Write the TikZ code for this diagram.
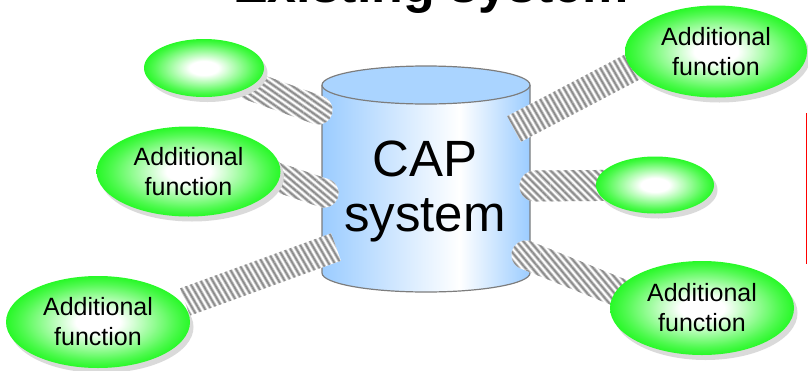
\documentclass[tikz,border=0pt]{standalone}
\usepackage{fontspec}
\setmainfont{Liberation Sans}
\usetikzlibrary{shapes.geometric,patterns.meta,calc,shadows}
\definecolor{cylblue}{RGB}{155,204,255}
\definecolor{cyltop}{RGB}{170,212,255}
\definecolor{cylline}{RGB}{125,125,125}
\definecolor{fgreen}{RGB}{20,248,20}
\definecolor{shgray}{RGB}{218,218,218}
\definecolor{stripe}{RGB}{140,140,140}
\definecolor{stripesoft}{RGB}{200,200,200}
\pgfdeclarehorizontalshading{cylshade}{100bp}{color(0bp)=(cylblue); color(25bp)=(cylblue); color(58bp)=(white); color(75bp)=(cylblue); color(100bp)=(cylblue)}
\pgfdeclareradialshading{blob}{\pgfpoint{0bp}{0bp}}{color(0bp)=(white); color(6bp)=(white); color(14bp)=(white!60!fgreen); color(21bp)=(white!25!fgreen); color(27bp)=(fgreen); color(50bp)=(fgreen)}
\tikzset{
  bandfill/.style={preaction={fill=white}},
  fnode/.style={ellipse, shade, shading=blob, draw=none, inner sep=0pt, align=center,
    font=\fontsize{25}{30}\selectfont,
    drop shadow={shadow xshift=3.5pt, shadow yshift=-5pt, fill=shgray, opacity=1}},
}
\newcommand\bandbody[4]{%
  \path[bandfill, pattern color=stripesoft, pattern={Lines[angle=#4,distance=5.2pt,line width=3.4pt]},
        postaction={pattern color=stripe, pattern={Lines[angle=#4,distance=5.2pt,line width=1.6pt]}}]
    ($(#1)!#3!90:(#2)$) -- ($(#2)!#3!-90:(#1)$) -- ($(#2)!#3!90:(#1)$) -- ($(#1)!#3!-90:(#2)$) -- cycle;}
\newcommand\bandcap[3]{%
  \path[bandfill, pattern color=stripesoft, pattern={Lines[angle=#3,distance=5.2pt,line width=3.4pt]},
        postaction={pattern color=stripe, pattern={Lines[angle=#3,distance=5.2pt,line width=1.6pt]}}]
    (#1) circle[radius=#2];}
\begin{document}
\begin{tikzpicture}[x=1pt,y=-1pt]
\useasboundingbox (0,0) rectangle (808,370);
% title (cut at the top, as in the original)
\node[font=\bfseries\fontsize{52}{52}\selectfont, anchor=base, inner sep=0pt] (title) at (431,2) {Existing system};
% cylinder
\path[shade, shading=cylshade, draw=cylline, line width=1.2pt]
  (322,85) -- (322,273) .. controls (322,283.5) and (368.6,292) .. (426,292)
  .. controls (483.4,292) and (530,283.5) .. (530,273) -- (530,85);
\draw[fill=cyltop, draw=cylline, line width=1.2pt] (426,85) ellipse[x radius=104, y radius=19];
\node[font=\fontsize{51}{55}\selectfont, align=center, inner sep=0pt, anchor=north] (cap) at (425,141) {CAP\\system};
% band end points
\coordinate (b1s) at (220,75);  \coordinate (b1e) at (318,110);
\coordinate (b2s) at (250,168); \coordinate (b2e) at (324,193);
\coordinate (b3s) at (185,302); \coordinate (b3e) at (336,247);
\coordinate (b4s) at (640,63);  \coordinate (b4e) at (514,129);
\coordinate (b5s) at (655,185); \coordinate (b5e) at (535,186);
\coordinate (b6s) at (660,309); \coordinate (b6e) at (526,255);
% bands
\bandbody{b1s}{b1e}{14.5pt}{-35}\bandcap{b1e}{14.5pt}{-35}
\bandbody{b2s}{b2e}{14.5pt}{-40}\bandcap{b2e}{14.5pt}{-40}
\bandbody{b3s}{b3e}{14.5pt}{-60}
\bandbody{b4s}{b4e}{14.5pt}{-60}
\bandbody{b5s}{b5e}{15.5pt}{-45}\bandcap{b5e}{15.5pt}{-45}
\bandbody{b6s}{b6e}{14.5pt}{-50}\bandcap{b6e}{14.5pt}{-50}
% function ellipses
\node[fnode, minimum width=120pt, minimum height=58pt] (e1) at (204,68) {};
\node[fnode, minimum width=184pt, minimum height=90pt] (e2) at (188.5,171.5) {Additional\\function};
\node[fnode, minimum width=184pt, minimum height=92pt] (e3) at (98,322) {Additional\\function};
\node[fnode, minimum width=182pt, minimum height=92pt] (e4) at (716,51.5) {Additional\\function};
\node[fnode, minimum width=118pt, minimum height=57pt] (e5) at (655,185) {};
\node[fnode, minimum width=184pt, minimum height=94pt] (e6) at (702,308) {Additional\\function};
% red line at the right edge
\draw[red, line width=1.5pt] (806.5,113) -- (806.5,264);
\end{tikzpicture}
\end{document}
